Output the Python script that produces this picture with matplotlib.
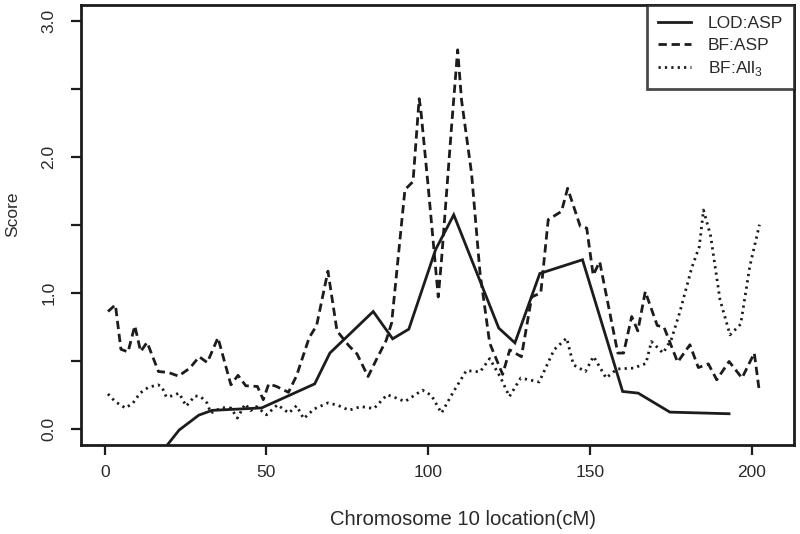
import matplotlib
matplotlib.use("Agg")
import matplotlib.pyplot as plt

plt.rcParams['font.family'] = ['Liberation Sans', 'DejaVu Sans']
plt.rcParams['mathtext.fontset'] = 'custom'
plt.rcParams['mathtext.rm'] = 'Liberation Sans'

# LOD:ASP (solid)
lod_x = [16.0, 23.0, 29.1, 33.2, 48.5, 64.9, 69.6, 83.0, 89.0, 94.0, 102.3, 107.9,
         121.8, 126.8, 134.5, 147.7, 160.1, 164.9, 174.7, 193.0]
lod_y = [-0.22, -0.01, 0.10, 0.135, 0.153, 0.33, 0.557, 0.863, 0.662, 0.733, 1.32, 1.575,
         0.741, 0.632, 1.143, 1.244, 0.274, 0.262, 0.122, 0.11]

# BF:ASP (dashed)
bfasp_x = [1.0, 3.3, 5.0, 7.2, 9.3, 11.1, 13.1, 16.6, 19.7, 22.8, 26.3, 29.2, 31.7, 35.0,
           39.0, 41.2, 43.6, 47.2, 49.0, 50.7, 53.1, 56.8, 59.3, 63.2, 65.5, 69.0, 71.8,
           75.5, 78.0, 81.4, 84.0, 87.0, 88.7, 92.8, 95.3, 97.2, 97.7, 100.0, 103.1, 104.1,
           107.2, 109.1, 110.3, 113.4, 116.0, 119.0, 123.0, 125.2, 128.8, 132.0, 134.8,
           137.1, 141.2, 143.1, 147.0, 149.0, 151.0, 153.0, 158.6, 160.4, 162.9, 164.8,
           167.1, 170.8, 172.9, 177.1, 180.9, 183.5, 186.6, 189.2, 193.0, 197.0, 200.8, 202.3]
bfasp_y = [0.863, 0.912, 0.585, 0.565, 0.758, 0.568, 0.636, 0.421, 0.414, 0.387, 0.446, 0.53,
           0.487, 0.67, 0.323, 0.393, 0.316, 0.311, 0.213, 0.33, 0.311, 0.268, 0.39, 0.67,
           0.76, 1.16, 0.72, 0.61, 0.55, 0.384, 0.51, 0.65, 0.78, 1.76, 1.82, 2.43, 2.35,
           1.78, 0.97, 1.24, 2.22, 2.79, 2.42, 1.88, 1.15, 0.63, 0.40, 0.58, 0.53, 0.97,
           1.0, 1.54, 1.6, 1.77, 1.49, 1.477, 1.13, 1.23, 0.557, 0.557, 0.826, 0.72, 1.01,
           0.76, 0.747, 0.49, 0.618, 0.45, 0.477, 0.36, 0.495, 0.373, 0.557, 0.286]

# BF:All3 (dotted)
bfall_x = [1.0, 3.2, 6.4, 8.7, 10.9, 13.5, 16.5, 17.7, 19.0, 20.8, 23.0, 25.2, 27.9, 29.7,
           31.6, 32.8, 36.2, 39.0, 41.0, 43.4, 45.1, 46.9, 50.0, 53.4, 56.9, 59.3, 61.5,
           64.7, 69.0, 72.1, 75.5, 79.2, 83.2, 87.3, 90.2, 92.8, 98.2, 101.0, 104.1, 107.7,
           111.8, 116.0, 119.0, 122.3, 125.1, 128.6, 134.3, 138.9, 142.8, 144.9, 148.6,
           151.1, 155.0, 158.4, 163.4, 167.3, 169.0, 172.6, 175.2, 177.8, 181.4, 183.8,
           185.1, 187.3, 190.2, 193.3, 196.6, 199.4, 202.4]
bfall_y = [0.256, 0.2, 0.152, 0.188, 0.262, 0.305, 0.323, 0.306, 0.235, 0.242, 0.262, 0.166,
           0.242, 0.235, 0.19, 0.115, 0.155, 0.152, 0.078, 0.182, 0.133, 0.163, 0.102, 0.176,
           0.115, 0.169, 0.074, 0.145, 0.19, 0.172, 0.136, 0.163, 0.148, 0.25, 0.225, 0.2,
           0.284, 0.245, 0.115, 0.268, 0.428, 0.418, 0.516, 0.38, 0.237, 0.373, 0.344,
           0.581, 0.667, 0.47, 0.421, 0.532, 0.373, 0.44, 0.446, 0.48, 0.642, 0.557, 0.66,
           0.86, 1.18, 1.34, 1.61, 1.42, 0.95, 0.691, 0.77, 1.194, 1.502]

x_ticks = [0, 50, 100, 150, 200]
y_ticks = [0.0, 0.5, 1.0, 1.5, 2.0, 2.5, 3.0]
y_labels = ['0.0', '', '1.0', '', '2.0', '', '3.0']

col = '#1c1c1c'
txt = '#2a2a2a'
fig = plt.figure(figsize=(8.0, 5.34), dpi=100)
ax = fig.add_axes([0.101, 0.1667, 0.892, 0.8239])

ax.plot(lod_x, lod_y, color=col, lw=2.0, solid_joinstyle='miter', label='LOD:ASP')
ax.plot(bfasp_x, bfasp_y, color=col, lw=2.0, dashes=(3.0, 1.7), label='BF:ASP')
ax.plot(bfall_x, bfall_y, color=col, lw=2.0, dashes=(0.8, 1.5), label=r'BF:All$_{\mathregular{3}}$')

ax.set_xlim(-7.4, 213.2)
ax.set_ylim(-0.12, 3.12)
ax.set_xticks(x_ticks)
ax.set_xticklabels([str(v) for v in x_ticks])
ax.set_yticks(y_ticks)
ax.set_yticklabels(y_labels, rotation=90, va='center')

for s in ax.spines.values():
    s.set_linewidth(2.0)
    s.set_color(col)
ax.tick_params(axis='both', length=7.5, width=1.6, color=col, labelsize=12.5, labelcolor=txt)
ax.tick_params(axis='x', pad=7)
ax.tick_params(axis='y', pad=10)

ax.set_xlabel('Chromosome 10 location(cM)', fontsize=14.6, color=txt)
ax.xaxis.set_label_coords(0.5355, -0.170)
ax.xaxis.label.set_va('center')
ax.set_ylabel('Score', fontsize=12.5, color=txt)
ax.yaxis.set_label_coords(-0.0959, 0.525)
ax.yaxis.label.set_va('center')

leg = ax.legend(loc='upper right', bbox_to_anchor=(1.0, 1.0), borderaxespad=0,
                fancybox=False, frameon=True, fontsize=12.5, handlelength=1.85,
                handletextpad=1.0, labelspacing=0.35, borderpad=0.65)
leg.get_frame().set_edgecolor(col)
leg.get_frame().set_linewidth(2.0)
for t in leg.get_texts():
    t.set_color(txt)

fig.savefig('out.png', dpi=100)
